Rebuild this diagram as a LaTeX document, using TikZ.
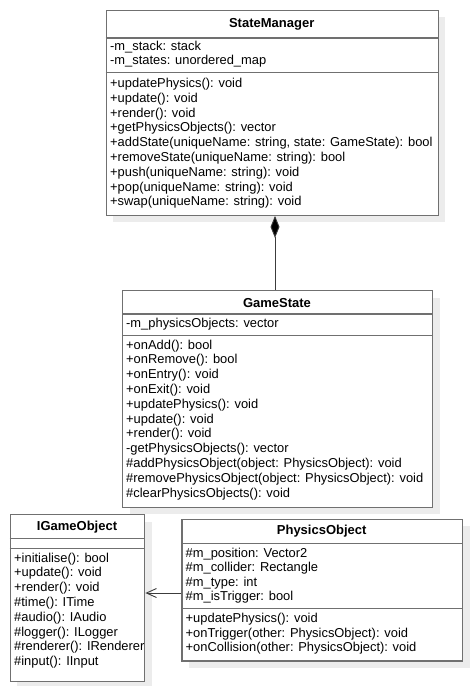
\documentclass[tikz,border=0pt]{standalone}
\usepackage{fontspec}
\setmainfont{Liberation Sans}
\usetikzlibrary{arrows.meta,shadows}
\definecolor{bordc}{RGB}{112,112,112}
\definecolor{shadc}{RGB}{236,236,236}
\definecolor{linec}{RGB}{60,60,60}
\tikzset{
  classbox/.style={draw=bordc, line width=1.4pt, fill=white, inner sep=0pt, anchor=north west,
    drop shadow={shadow xshift=7pt, shadow yshift=-7pt, fill=shadc, opacity=1}},
  sepline/.style={draw=bordc, line width=1.3pt},
  member/.style={inner sep=0pt, anchor=mid west, font=\fontsize{12.9}{14.8}\selectfont, text=black},
  ctitle/.style={inner sep=0pt, anchor=center, font=\fontsize{13}{14.8}\selectfont\bfseries, text=black},
  compo/.style={draw=linec, line width=0.9pt, {Diamond[length=22pt,width=9pt,fill=black]}-},
  assoc/.style={draw=linec, line width=0.9pt, -{Straight Barb[length=10pt,width=9pt,line width=0.9pt]}},
}
\newcommand\umlbox[5]{\node[classbox, minimum width=#4pt, minimum height=#5pt] (#1) at (#2,#3) {};}
\newcommand\umlsep[2]{\draw[sepline] ([yshift=-#2pt]#1.north west) -- ([yshift=-#2pt]#1.north east);}
\newcommand\umlmembers[5]{\foreach \t [count=\i from 0] in {#5} {\node[member] (#1-\i) at (#2,{#3+\i*#4}) {\t};}}
\begin{document}
\begin{tikzpicture}[x=1pt,y=-1pt]
\useasboundingbox (0,0) rectangle (471,686);

% StateManager
\umlbox{sm}{105.7}{9.7}{332}{204.8}
\umlsep{sm}{28.3}
\umlsep{sm}{63}
\node[ctitle] (smt) at (271.7,24) {StateManager};
\umlmembers{sma}{110}{47.5}{14.8}{-m\_stack: stack, -m\_states: unordered\_map}
\umlmembers{smm}{110}{84.8}{14.8}{+updatePhysics(): void, +update(): void, +render(): void,
  +getPhysicsObjects(): vector, {+addState(uniqueName: string, state: GameState): bool},
  +removeState(uniqueName: string): bool, +push(uniqueName: string): void,
  +pop(uniqueName: string): void, +swap(uniqueName: string): void}

% GameState
\umlbox{gs}{122}{290}{310}{216.7}
\umlsep{gs}{24}
\umlsep{gs}{45.3}
\node[ctitle] (gst) at (277,303) {GameState};
\umlmembers{gsa}{126}{325}{14.8}{-m\_physicsObjects: vector}
\umlmembers{gsm}{126}{346.5}{14.8}{+onAdd(): bool, +onRemove(): bool, +onEntry(): void,
  +onExit(): void, +updatePhysics(): void, +update(): void, +render(): void,
  -getPhysicsObjects(): vector, \#addPhysicsObject(object: PhysicsObject): void,
  \#removePhysicsObject(object: PhysicsObject): void, \#clearPhysicsObjects(): void}

% IGameObject
\umlbox{igo}{9.7}{514}{134.3}{167}
\umlsep{igo}{24.3}
\umlsep{igo}{34.3}
\node[ctitle] (igot) at (77,527) {IGameObject};
\umlmembers{igom}{14}{559.5}{14.8}{+initialise(): bool, +update(): void, +render(): void,
  \#time(): ITime, \#audio(): IAudio, \#logger(): ILogger, \#renderer(): IRenderer,
  \#input(): IInput}

% PhysicsObject
\umlbox{po}{181.3}{518.7}{280.7}{141.6}
\umlsep{po}{24.8}
\umlsep{po}{89.8}
\node[ctitle] (pot) at (321.7,531.5) {PhysicsObject};
\umlmembers{poa}{185.5}{554.5}{14.5}{\#m\_position: Vector2, \#m\_collider: Rectangle,
  \#m\_type: int, \#m\_isTrigger: bool}
\umlmembers{pom}{185.5}{620.3}{14.4}{+updatePhysics(): void, +onTrigger(other: PhysicsObject): void,
  +onCollision(other: PhysicsObject): void}

% connectors
\draw[compo] ([xshift=2.6pt]sm.south) -- ([xshift=2.6pt]sm.south |- gs.north);
\coordinate (ay) at (0,593);
\draw[assoc] (po.west |- ay) -- (igo.east |- ay);
\end{tikzpicture}
\end{document}
